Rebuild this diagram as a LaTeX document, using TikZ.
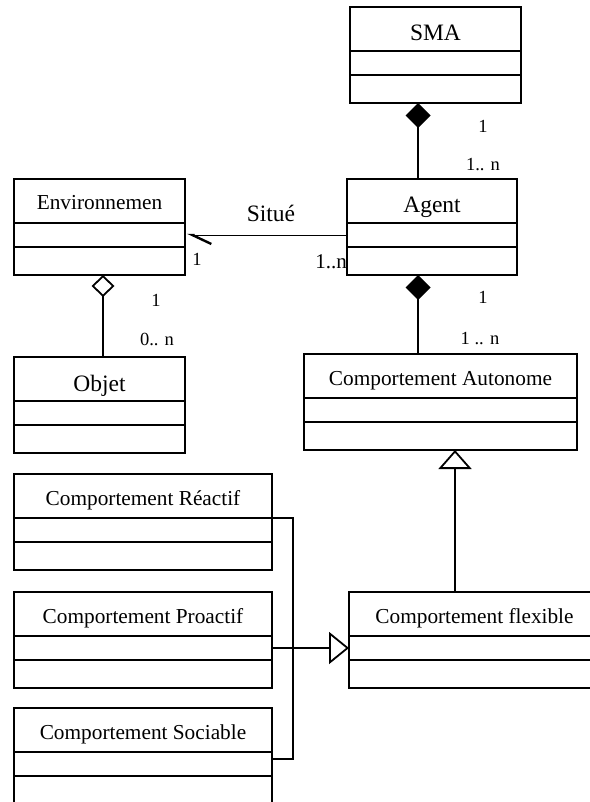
\documentclass[tikz,border=0pt]{standalone}
\usepackage{fontspec}
\setmainfont{Liberation Serif}
\usepackage{tikz}
\usetikzlibrary{arrows.meta, positioning}

\begin{document}
\begin{tikzpicture}[x=1pt, y=-1pt, line width=1.8pt,
  classname/.style={draw, rectangle, fill=white, minimum height=44pt, inner sep=0pt, outer sep=0pt,
    text height=18pt, text depth=0pt, font=\fontsize{21.3}{24}\selectfont},
  bigname/.style={classname, text height=24pt, font=\fontsize{23.5}{26}\selectfont},
  attrbox/.style={draw, rectangle, fill=white, minimum height=24pt, inner sep=0pt, outer sep=0pt},
  opsbox/.style={attrbox, minimum height=28pt},
  mult/.style={inner sep=1pt, font=\fontsize{18.5}{20}\selectfont},
  bigmult/.style={inner sep=1pt, font=\fontsize{21}{24}\selectfont}]
\useasboundingbox (0,0) rectangle (589,802);
% multiplicity hidden behind the Agent box
\node[bigmult] (m-situe-agent) at (331,262) {1..n};
% classes
\node[bigname, minimum width=171pt, anchor=north] (sma) at (435.5,7) {SMA};
\node[attrbox, minimum width=171pt, below=0pt of sma] (sma-attr) {};
\node[opsbox, minimum width=171pt, below=0pt of sma-attr] (sma-ops) {};
\node[bigname, minimum width=170pt, anchor=north] (agent) at (432,179) {Agent};
\node[attrbox, minimum width=170pt, below=0pt of agent] (agent-attr) {};
\node[opsbox, minimum width=170pt, below=0pt of agent-attr] (agent-ops) {};
\node[classname, minimum width=171pt, anchor=north] (env) at (99.5,179) {Environnemen};
\node[attrbox, minimum width=171pt, below=0pt of env] (env-attr) {};
\node[opsbox, minimum width=171pt, below=0pt of env-attr] (env-ops) {};
\node[bigname, minimum width=171pt, anchor=north] (objet) at (99.5,357) {Objet};
\node[attrbox, minimum width=171pt, below=0pt of objet] (objet-attr) {};
\node[opsbox, minimum width=171pt, below=0pt of objet-attr] (objet-ops) {};
\node[classname, minimum width=273pt, anchor=north] (auto) at (440.5,354) {Comportement Autonome};
\node[attrbox, minimum width=273pt, below=0pt of auto] (auto-attr) {};
\node[opsbox, minimum width=273pt, below=0pt of auto-attr] (auto-ops) {};
\node[classname, minimum width=258pt, anchor=north] (reactif) at (143,474) {Comportement Réactif};
\node[attrbox, minimum width=258pt, below=0pt of reactif] (reactif-attr) {};
\node[opsbox, minimum width=258pt, below=0pt of reactif-attr] (reactif-ops) {};
\node[classname, minimum width=258pt, anchor=north] (proactif) at (143,592) {Comportement Proactif};
\node[attrbox, minimum width=258pt, below=0pt of proactif] (proactif-attr) {};
\node[opsbox, minimum width=258pt, below=0pt of proactif-attr] (proactif-ops) {};
\node[classname, minimum width=258pt, anchor=north] (sociable) at (143,708) {Comportement Sociable};
\node[attrbox, minimum width=258pt, below=0pt of sociable] (sociable-attr) {};
\node[opsbox, minimum width=258pt, below=0pt of sociable-attr] (sociable-ops) {};
\node[classname, minimum width=251pt, anchor=north] (flexible) at (474.5,592) {Comportement flexible};
\node[attrbox, minimum width=251pt, below=0pt of flexible] (flexible-attr) {};
\node[opsbox, minimum width=251pt, below=0pt of flexible-attr] (flexible-ops) {};
% compositions and aggregation
\draw[{Diamond[length=25pt, width=25pt]}-] ([xshift=-17.5pt]sma-ops.south) -- ([xshift=-14pt]agent.north);
\draw[{Diamond[length=25pt, width=25pt]}-] ([xshift=-14pt]agent-ops.south) -- ([xshift=-22.5pt]auto.north);
\draw[{Diamond[fill=white, length=22pt, width=23pt]}-] ([xshift=3.5pt]env-ops.south) -- ([xshift=3.5pt]objet.north);
% association
\draw[line width=0.8pt, -{Straight Barb[harpoon, length=19pt, width=18pt, line width=2.4pt]}, shorten >=2pt]
  (agent-attr.west) -- (env-attr.east);
% generalizations
\draw[-{Triangle[open, length=19pt, width=33pt]}] ([xshift=-19.5pt]flexible.north) -- ([xshift=14.5pt]auto-ops.south);
\coordinate[right=21pt of proactif-attr.east] (junction);
\draw[-{Triangle[open, length=20pt, width=32pt]}] (proactif-attr.east) -- (flexible-attr.west);
\draw (reactif.south east) -| (junction);
\draw ([yshift=5pt]sociable-attr.east) -| (junction);
% labels
\node[mult] (m-sma) at (483,126) {1};
\node[mult] (m-agent) at (483,165) {1.. n};
\node[mult] (m-agent-comp) at (483,297) {1};
\node[mult, fill=white, minimum width=84pt, minimum height=30pt, anchor=south] (m-auto) at ([xshift=39.5pt]auto.north) {1 .. n};
\node[font=\fontsize{23.5}{26}\selectfont] (situe) at (271,213) {Situé};
\node[mult] (m-situe-env) at (197,259) {1};
\node[mult] (m-env) at (156,300) {1};
\node[mult] (m-objet) at (157,339) {0.. n};
\end{tikzpicture}
\end{document}
